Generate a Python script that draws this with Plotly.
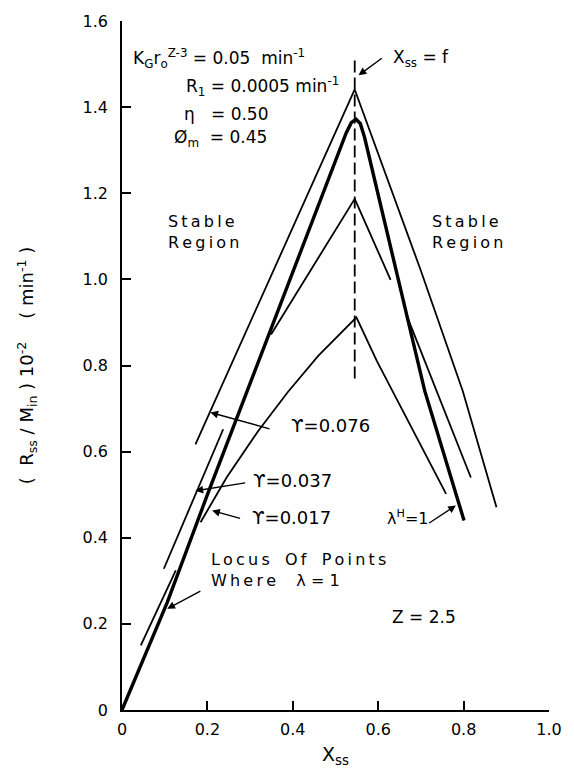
import plotly.graph_objects as go

# ---------------- data ----------------
x_ticks = [0, 0.2, 0.4, 0.6, 0.8, 1.0]
x_tick_text = ["0", "0.2", "0.4", "0.6", "0.8", "1.0"]
y_ticks = [0, 0.2, 0.4, 0.6, 0.8, 1.0, 1.2, 1.4, 1.6]
y_tick_text = ["0", "0.2", "0.4", "0.6", "0.8", "1.0", "1.2", "1.4", "1.6"]

f_x = 0.545  # X_ss = f

# psi = 0.076 curve (top)
c076_x = [0.172, 0.545, 0.70, 0.798, 0.877]
c076_y = [0.617, 1.441, 1.02, 0.741, 0.471]

# lambda^H = 1 (thick) curve
cH_x = [0.0, 0.106, 0.20, 0.26, 0.295, 0.525, 0.537, 0.548, 0.558, 0.568, 0.709, 0.801]
cH_y = [0.0, 0.25, 0.50, 0.655, 0.741, 1.34, 1.364, 1.372, 1.362, 1.33, 0.741, 0.44]

# psi = 0.037 curve (middle)
c037_x = [0.349, 0.545, 0.629, None, 0.666, 0.817]
c037_y = [0.872, 1.187, 0.999, None, 0.918, 0.54]

# psi = 0.017 curve (lowest peak)
c017_x = [0.184, 0.245, 0.319, 0.388, 0.46, 0.549, 0.597, 0.759]
c017_y = [0.436, 0.540, 0.648, 0.738, 0.823, 0.912, 0.81, 0.502]

# short lower segments
seg037_x = [0.098, 0.237]
seg037_y = [0.328, 0.652]
seg076_x = [0.044, 0.126]
seg076_y = [0.150, 0.324]

dash_y = [0.77, 1.52]

FONT = "DejaVu Sans"
NB = "\u00a0"
fig = go.Figure()

def line(x, y, w):
    fig.add_trace(go.Scatter(x=x, y=y, mode="lines",
                             line=dict(color="black", width=w),
                             connectgaps=False, showlegend=False, hoverinfo="skip"))

line(c076_x, c076_y, 1.8)
line(cH_x, cH_y, 3.4)
line(c037_x, c037_y, 1.8)
line(c017_x, c017_y, 1.8)
line(seg037_x, seg037_y, 1.8)
line(seg076_x, seg076_y, 1.8)
fig.add_trace(go.Scatter(x=[f_x, f_x], y=dash_y, mode="lines",
                         line=dict(color="black", width=1.8, dash="12px,5px"),
                         showlegend=False, hoverinfo="skip"))

def text(x, y, s, size=16, xanchor="left", align="left"):
    fig.add_annotation(x=x, y=y, text=s, showarrow=False, xanchor=xanchor, yanchor="middle",
                       align=align, font=dict(family=FONT, size=size, color="black"))

def arrow(x, y, ax, ay):
    fig.add_annotation(x=x, y=y, ax=ax, ay=ay, axref="x", ayref="y", text="",
                       showarrow=True, arrowhead=2, arrowsize=1.1, arrowwidth=1.4,
                       arrowcolor="black")

def spaced(s):
    return "\u2009".join(s)

W = NB * 3  # word gap

text(0.020, 1.512, "K<sub>G</sub>r<sub>o</sub><sup>Z-3</sup>" + NB + "=" + NB + "0.05" + NB * 2 + "min<sup>-1</sup>", size=17)
text(0.145, 1.447, "R<sub>1</sub>" + NB + "=" + NB + "0.0005" + NB + "min<sup>-1</sup>", size=17)
text(0.140, 1.384, "η" + NB * 3 + "=" + NB + "0.50", size=17)
text(0.117, 1.326, "Ø<sub>m</sub>" + NB * 2 + "=" + NB + "0.45", size=17)
text(0.630, 1.512, "X<sub>ss</sub>" + NB + "=" + NB + "f", size=17)
arrow(0.554, 1.474, 0.612, 1.516)
text(0.191, 1.111, spaced("Stable") + "<br>" + spaced("Region"), size=16, xanchor="center")
text(0.81, 1.111, spaced("Stable") + "<br>" + spaced("Region"), size=16, xanchor="center")
text(0.392, 0.66, "ϒ=0.076", size=18)
arrow(0.207, 0.691, 0.349, 0.652)
text(0.303, 0.532, "ϒ=0.037", size=18)
arrow(0.172, 0.509, 0.292, 0.528)
text(0.299, 0.447, "ϒ=0.017", size=18)
arrow(0.211, 0.463, 0.28, 0.444)
text(0.615, 0.447, "λ<sup>H</sup>=1", size=16)
arrow(0.782, 0.475, 0.716, 0.432)
text(0.203, 0.324, spaced("Locus") + W + spaced("Of") + W + spaced("Points") + "<br>"
     + spaced("Where") + NB * 4 + "λ" + NB + "=" + NB + "1", size=16)
arrow(0.106, 0.235, 0.187, 0.278)
text(0.707, 0.216, "Z" + NB + "=" + NB + "2.5", size=17, xanchor="center")

ytitle = ("(" + NB * 2 + "R<sub>ss</sub>" + NB + "/" + NB + "M<sub>in</sub>" + NB + ")" + NB
          + "10<sup>-2</sup>" + NB * 4 + "(" + NB + "min<sup>-1</sup>" + NB + ")")

fig.update_layout(
    width=574, height=776,
    margin=dict(l=122, r=20, t=19, b=66),
    paper_bgcolor="white", plot_bgcolor="white",
    font=dict(family=FONT, size=15, color="black"),
    xaxis=dict(range=[0, 1.0], tickvals=x_ticks, ticktext=x_tick_text,
               showline=True, linecolor="black", linewidth=1.6, ticks="inside",
               ticklen=9, tickwidth=1.6, tickcolor="black", showgrid=False, zeroline=False,
               ticklabelstandoff=4, tickfont=dict(size=16),
               title=dict(text="X<sub>ss</sub>", font=dict(size=19), standoff=10)),
    yaxis=dict(range=[0, 1.6], tickvals=y_ticks, ticktext=y_tick_text,
               showline=True, linecolor="black", linewidth=1.6, ticks="inside",
               ticklen=9, tickwidth=1.6, tickcolor="black", showgrid=False, zeroline=False,
               ticklabelstandoff=9, tickfont=dict(size=16),
               title=dict(text=ytitle, font=dict(size=18), standoff=44)),
)

fig.write_html("out.html")
